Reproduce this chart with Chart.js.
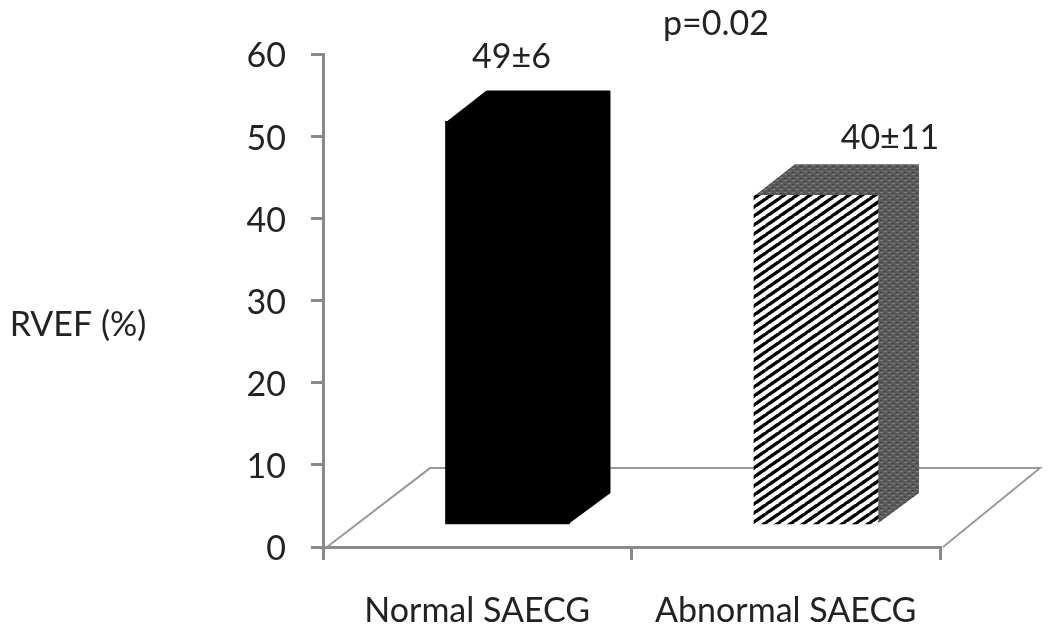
<!DOCTYPE html>
<html>
<head>
<meta charset="utf-8">
<title>RVEF</title>
<script src="https://cdn.jsdelivr.net/npm/chart.js@4"></script>
<style>
html, body { margin: 0; padding: 0; background: #fff; }
canvas { display: block; filter: blur(0.7px); }
</style>
</head>
<body>
<canvas id="myChart" width="1050" height="633"></canvas>
<script>
var categories = ["Normal SAECG", "Abnormal SAECG"];
var rvef = [49, 40];
var barLabels = ["49±6", "40±11"];
var pValue = "p=0.02";
var yTitle = "RVEF (%)";
var yTicks = [0, 10, 20, 30, 40, 50, 60];

// the 3D look of the original lifts the bars off the axis
var barLift = 2.8;
var floorBack = 9.6;
var depthX = 41;
var depthY = 31;
var floorDepthX = 103;

var fontName = "Lato, 'Open Sans', sans-serif";
var textColor = "#222";
var axisColor = "#8a8a8a";

function stripes() {
	var tile = document.createElement("canvas");
	tile.width = 13;
	tile.height = 9;
	var c = tile.getContext("2d");
	c.fillStyle = "#fff";
	c.fillRect(0, 0, 13, 9);
	c.strokeStyle = "#000";
	c.lineWidth = 3.4;
	[-13, 0, 13].forEach(function (dx) {
		c.beginPath();
		c.moveTo(dx - 1, 9 + 0.7);
		c.lineTo(dx + 14, -0.7);
		c.stroke();
	});
	return c.createPattern(tile, "repeat");
}

function mottled() {
	var tile = document.createElement("canvas");
	tile.width = 8;
	tile.height = 6;
	var c = tile.getContext("2d");
	c.fillStyle = "#5a5a5a";
	c.fillRect(0, 0, 8, 6);
	c.fillStyle = "#7c7c7c";
	c.fillRect(0, 0, 3, 1);
	c.fillRect(4, 3, 3, 1);
	c.fillStyle = "#3f3f3f";
	c.fillRect(4, 1, 2, 1);
	c.fillRect(0, 4, 2, 1);
	return c.createPattern(tile, "repeat");
}

var ctx = document.getElementById("myChart").getContext("2d");
var frontFills = ["#000", stripes()];
var sideFills = ["#000", mottled()];

var floorPlugin = {
	id: "floor",
	beforeDatasetsDraw: function (chart) {
		var c = chart.ctx;
		var y = chart.scales.y;
		var a = chart.chartArea;
		var front = y.getPixelForValue(0);
		var back = y.getPixelForValue(floorBack);
		c.save();
		c.strokeStyle = "#9a9a9a";
		c.lineWidth = 2;
		c.beginPath();
		c.moveTo(a.left + 4, front);
		c.lineTo(a.left + floorDepthX + 4, back);
		c.lineTo(a.right + floorDepthX - 3, back);
		c.lineTo(a.right + 3, front);
		c.stroke();
		c.restore();
	}
};

var boxPlugin = {
	id: "box",
	beforeDatasetsDraw: function (chart) {
		var c = chart.ctx;
		chart.getDatasetMeta(0).data.forEach(function (bar, i) {
			var left = bar.x - bar.width / 2;
			var right = bar.x + bar.width / 2;
			c.save();
			c.fillStyle = sideFills[i];
			c.beginPath();
			c.moveTo(left, bar.y + 1);
			c.lineTo(left + depthX, bar.y - depthY);
			c.lineTo(right + depthX, bar.y - depthY);
			c.lineTo(right + depthX, bar.base - depthY);
			c.lineTo(right - 1, bar.base);
			c.lineTo(right - 1, bar.y + 1);
			c.closePath();
			c.fill();
			c.restore();
		});
	}
};

var textPlugin = {
	id: "notes",
	beforeDraw: function (chart) {
		// Lato sits a little high against the tick marks
		chart.scales.y.getLabelItems().forEach(function (item) {
			item.options.translation[1] += 2.5;
		});
	},
	afterDraw: function (chart) {
		var c = chart.ctx;
		var bars = chart.getDatasetMeta(0).data;
		c.save();
		c.fillStyle = textColor;
		c.textAlign = "center";
		c.textBaseline = "middle";
		c.font = "34px " + fontName;
		c.fillText(barLabels[0], bars[0].x + 4, bars[0].y - depthY - 33);
		c.fillText(barLabels[1], bars[1].x + 74, bars[1].y - depthY - 26);
		c.fillText(pValue, 716, 24);
		c.fillText(yTitle, 78, 325);
		c.restore();
	}
};

new Chart(ctx, {
	type: "bar",
	data: {
		labels: categories,
		datasets: [
			{
				data: rvef.map(function (v, i) {
					return { x: i, y: [barLift, barLift + v] };
				}),
				xAxisID: "xBars",
				backgroundColor: frontFills,
				borderWidth: 0,
				barThickness: 124
			}
		]
	},
	options: {
		responsive: false,
		devicePixelRatio: 1,
		animation: false,
		layout: { padding: { top: 54, right: 110, left: 0, bottom: 0 } },
		plugins: {
			legend: { display: false },
			title: { display: false },
			tooltip: { enabled: false }
		},
		scales: {
			x: {
				type: "category",
				offset: true,
				grid: { offset: true, drawOnChartArea: false, color: axisColor, lineWidth: 3, tickLength: 13 },
				border: { color: axisColor, width: 3 },
				ticks: {
					color: textColor,
					font: { family: fontName, size: 34 },
					padding: 31,
					maxRotation: 0
				},
				afterFit: function (s) { s.height = 86; }
			},
			xBars: {
				axis: "x",
				type: "linear",
				display: false,
				offset: false,
				min: -0.598,
				max: 1.402
			},
			y: {
				min: 0,
				max: 60,
				grid: { drawOnChartArea: false, color: axisColor, lineWidth: 3, tickLength: 12 },
				border: { color: axisColor, width: 3 },
				afterBuildTicks: function (s) {
					s.ticks = yTicks.map(function (v) { return { value: v }; });
				},
				ticks: {
					color: textColor,
					font: { family: fontName, size: 34 },
					padding: 25
				},
				afterFit: function (s) { s.width = 323; }
			}
		}
	},
	plugins: [floorPlugin, boxPlugin, textPlugin]
});
</script>
</body>
</html>
